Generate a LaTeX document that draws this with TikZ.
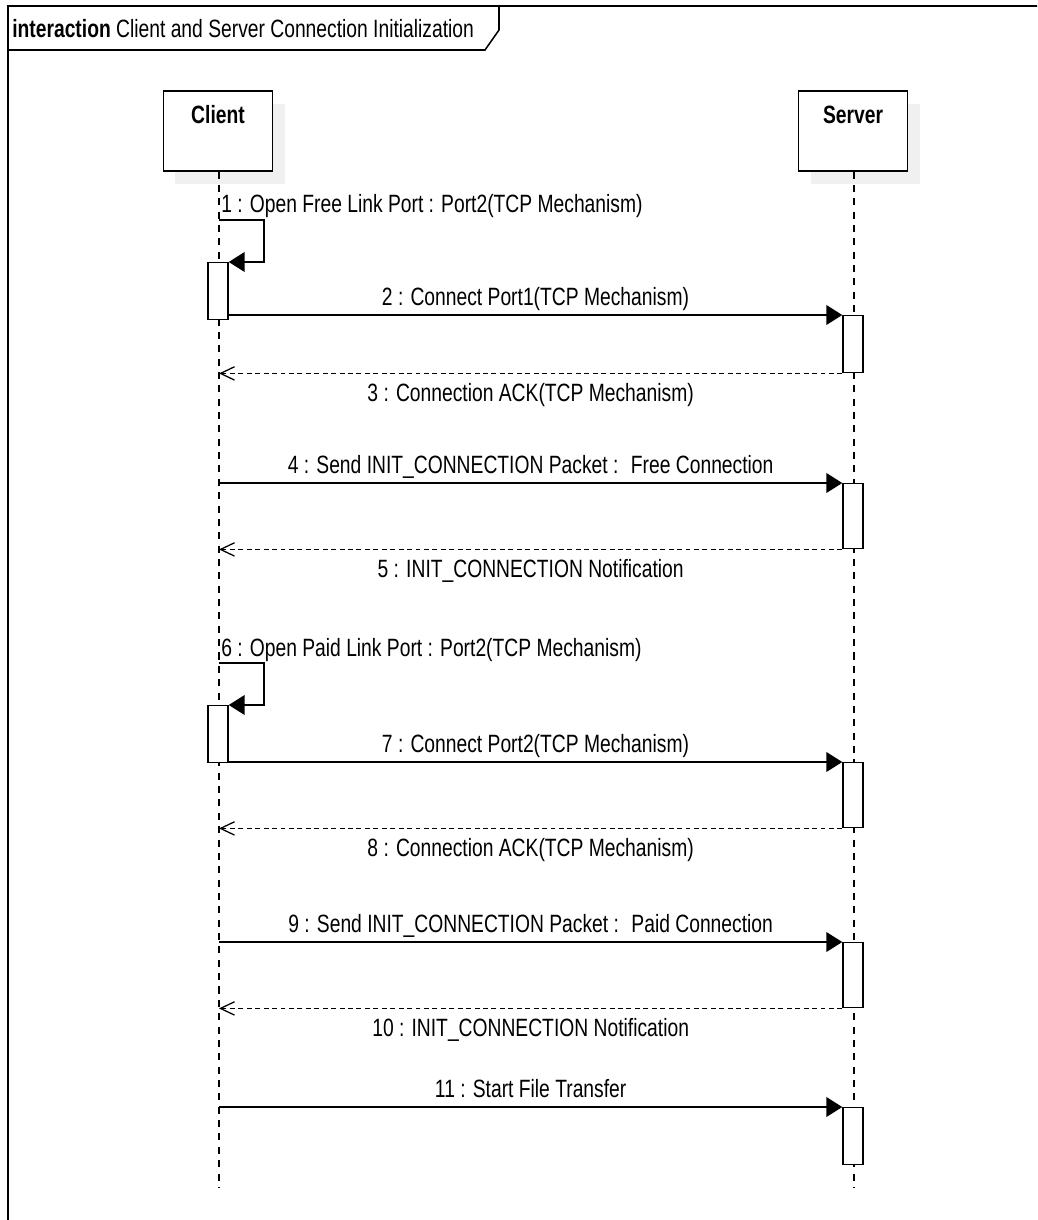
\documentclass[tikz,border=0pt]{standalone}
\usepackage{fontspec}
\setmainfont{Liberation Sans}[FakeStretch=0.77]
\usetikzlibrary{arrows.meta,shadows}

\begin{document}
\begin{tikzpicture}[x=0.025cm,y=-0.025cm,font=\fontsize{17.8}{21}\selectfont,
  actor/.style={draw,line width=1.1pt,fill=white,minimum width=2.725cm,inner sep=0pt,
    text height=0.825cm,text depth=1.175cm,font=\fontsize{17.8}{21}\selectfont\bfseries,
    drop shadow={shadow xshift=0.3cm,shadow yshift=-0.325cm,fill=black!6,opacity=1}},
  act/.style={draw,line width=1pt,fill=white,minimum width=0.5cm,minimum height=1.425cm,inner sep=0pt},
  lifeline/.style={line width=0.9pt,dash pattern=on 5pt off 4.5pt},
  call/.style={line width=1.4pt,-{Triangle[length=11.4pt,width=14pt]}},
  ret/.style={line width=1pt,dash pattern=on 3.5pt off 2.5pt,-{Straight Barb[length=10pt,width=9.5pt,line width=0.9pt]}},
  lbl/.style={anchor=base,inner sep=0pt}]
\useasboundingbox (0,0) rectangle (1037,1220);
\clip (0,0) rectangle (1037,1220);
% frame and its tab
\draw[line width=1.1pt] (8,6) rectangle (1100,1300);
\draw[line width=1.1pt] (8,50) -- (485,50) -- (499,30) -- (499,6);
\node[anchor=base west,inner sep=0pt] (title) at (12,38) {\textbf{interaction} Client and Server Connection Initialization};
% lifelines
\node[actor,anchor=north] (client) at (218,90) {Client};
\node[actor,anchor=north] (server) at (853,90) {Server};
\coordinate (cend) at (219,1187);
\coordinate (send) at (854,1187);
\draw[lifeline] (client.south -| cend) -- (cend);
\draw[lifeline] (server.south -| send) -- (send);
\newcommand{\callto}[5][1.425cm]{\node[act,anchor=north,minimum height=#1] (#2) at (853,#3) {};
  \draw[call] (#2.north west -| #4) -- (#2.north west) node[lbl,midway,yshift=7pt] {#5};}
\newcommand{\reply}[2]{\draw[ret] (#1.south west) -- (#1.south west -| cend) node[lbl,midway,yshift=-20pt] {#2};}
% free connection
\node[act,anchor=north] (c1) at (218,262) {};
\draw[call] (c1.north -| cend) ++(0,-42) coordinate (l1) -- ++(45,0) |- (c1.north east);
\node[lbl,anchor=base west] at ([shift={(2,-7)}]l1) {1 : Open Free Link Port : Port2(TCP Mechanism)};
\callto{s2}{315}{c1.east}{2 : Connect Port1(TCP Mechanism)}
\reply{s2}{3 : Connection ACK(TCP Mechanism)}
\callto[1.625cm]{s4}{483}{cend}{4 : Send INIT\_CONNECTION Packet :~ Free Connection}
\reply{s4}{5 : INIT\_CONNECTION Notification}
% paid connection
\node[act,anchor=north] (c6) at (218,705) {};
\draw[call] (c6.north -| cend) ++(0,-42) coordinate (l6) -- ++(45,0) |- (c6.north east);
\node[lbl,anchor=base west] at ([shift={(2,-7)}]l6) {6 : Open Paid Link Port : Port2(TCP Mechanism)};
\callto[1.625cm]{s7}{762}{c6.east}{7 : Connect Port2(TCP Mechanism)}
\reply{s7}{8 : Connection ACK(TCP Mechanism)}
\callto[1.625cm]{s9}{942}{cend}{9 : Send INIT\_CONNECTION Packet :~ Paid Connection}
\reply{s9}{10 : INIT\_CONNECTION Notification}
\callto{s11}{1107}{cend}{11 : Start File Transfer}
\end{tikzpicture}
\end{document}
